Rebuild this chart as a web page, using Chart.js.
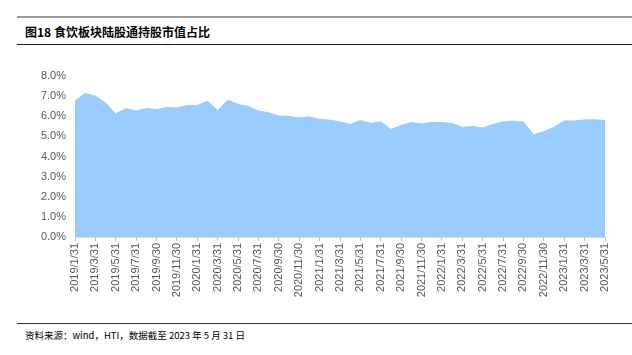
<!DOCTYPE html>
<html>
<head>
<meta charset="utf-8">
<script src="https://cdn.jsdelivr.net/npm/chart.js@4.4.0/dist/chart.umd.min.js"></script>
<style>
  body { margin: 0; width: 632px; height: 355px; background: #fff; position: relative; overflow: hidden; }
  #topRule { position: absolute; left: 17px; right: 0; top: 16px; height: 2px; background: #9a9a9a; }
  #title { position: absolute; left: 25px; top: 23px; font: bold 12px "Noto Sans CJK SC", "Liberation Sans", sans-serif; color: #000; }
  #titleRule { position: absolute; left: 17px; right: 0; top: 44px; height: 1px; background: #222; }
  #wrap { position: absolute; left: 0; top: 56px; width: 632px; height: 255px; }
  #footRule { position: absolute; left: 17px; right: 0; top: 323px; height: 1px; background: #333; }
  #foot { position: absolute; left: 25px; top: 328px; font: 9.5px "Noto Sans CJK SC", "Liberation Sans", sans-serif; color: #000; }
</style>
</head>
<body>
<div id="topRule"></div>
<div id="title">图18 食饮板块陆股通持股市值占比</div>
<div id="titleRule"></div>
<div id="wrap"><canvas id="myChart" width="632" height="255"></canvas></div>
<div id="footRule"></div>
<div id="foot">资料来源：wind，HTI，数据截至 2023 年 5 月 31 日</div>
<script>
// month-end dates 2019/1 .. 2023/5
const labels = [
  '2019/1/31','2019/2/28','2019/3/31','2019/4/30','2019/5/31','2019/6/30','2019/7/31','2019/8/31','2019/9/30','2019/10/31','2019/11/30','2019/12/31',
  '2020/1/31','2020/2/29','2020/3/31','2020/4/30','2020/5/31','2020/6/30','2020/7/31','2020/8/31','2020/9/30','2020/10/31','2020/11/30','2020/12/31',
  '2021/1/31','2021/2/28','2021/3/31','2021/4/30','2021/5/31','2021/6/30','2021/7/31','2021/8/31','2021/9/30','2021/10/31','2021/11/30','2021/12/31',
  '2022/1/31','2022/2/28','2022/3/31','2022/4/30','2022/5/31','2022/6/30','2022/7/31','2022/8/31','2022/9/30','2022/10/31','2022/11/30','2022/12/31',
  '2023/1/31','2023/2/28','2023/3/31','2023/4/30','2023/5/31'
];
// 持股市值占比 (%)
const shareValues = [
  6.76, 7.13, 7.00, 6.66, 6.12, 6.38, 6.26, 6.38, 6.33, 6.43, 6.41, 6.54,
  6.54, 6.74, 6.29, 6.80, 6.59, 6.49, 6.26, 6.17, 6.01, 5.99, 5.91, 5.97,
  5.84, 5.81, 5.72, 5.59, 5.79, 5.65, 5.72, 5.35, 5.54, 5.69, 5.62, 5.69,
  5.69, 5.64, 5.45, 5.49, 5.42, 5.59, 5.72, 5.76, 5.72, 5.08, 5.23, 5.45,
  5.77, 5.76, 5.82, 5.82, 5.79
];
const yTicks = [0, 1, 2, 3, 4, 5, 6, 7, 8];

const axisFont = { family: 'Liberation Sans', size: 11 };
const axisColor = '#595959';

const ctx = document.getElementById('myChart').getContext('2d');
new Chart(ctx, {
  type: 'line',
  data: {
    labels: labels,
    datasets: [{
      data: shareValues,
      fill: 'origin',
      backgroundColor: '#99ccff',
      borderColor: '#99ccff',
      borderWidth: 1,
      pointRadius: 0,
      tension: 0
    }]
  },
  options: {
    responsive: false,
    animation: false,
    layout: { padding: { top: 20, right: 27, left: 0, bottom: 0 } },
    plugins: { legend: { display: false }, tooltip: { enabled: false } },
    scales: {
      x: {
        afterFit: function(scale) { scale.height = 74; },
        grid: { drawOnChartArea: false, color: '#bfbfbf', tickLength: 4 },
        border: { color: '#d9d9d9' },
        ticks: {
          autoSkip: false, maxRotation: 90, minRotation: 90,
          color: axisColor, font: axisFont, padding: 2,
          callback: function(v, i) { return i % 2 == 0 ? labels[i] : null; }
        }
      },
      y: {
        min: yTicks[0], max: yTicks[yTicks.length - 1],
        afterFit: function(scale) { scale.width = 75; },
        afterBuildTicks: function(scale) { scale.ticks = yTicks.map(v => ({ value: v })); },
        grid: { display: false, drawTicks: false },
        border: { display: false },
        ticks: {
          color: axisColor, font: axisFont, padding: 9,
          callback: function(v) { return v.toFixed(1) + '%'; }
        }
      }
    }
  }
});
</script>
</body>
</html>
